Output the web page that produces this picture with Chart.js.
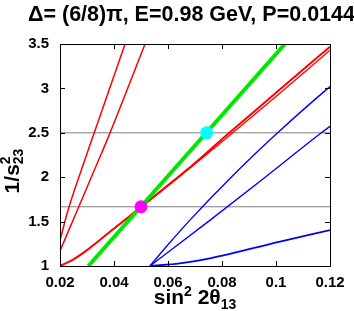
<!DOCTYPE html>
<html>
<head>
<meta charset="utf-8">
<script src="https://cdn.jsdelivr.net/npm/chart.js@4.4.1/dist/chart.umd.min.js"></script>
<style>
  body { margin: 0; background: #fff; }
  canvas { display: block; }
</style>
</head>
<body>
<canvas id="chart" width="354" height="311"></canvas>
<script>
// axis ticks
const xTicks = [0.02, 0.04, 0.06, 0.08, 0.1, 0.12];
const yTicks = [1, 1.5, 2, 2.5, 3, 3.5];

// horizontal reference levels (1/s23^2)
const refLevels = [2.5, 1.667];

// red curves [sin^2 2theta13, 1/s23^2]
const redSteepA = [[0.02, 1.29], [0.023, 1.63], [0.028, 2.09], [0.033, 2.53], [0.0441, 3.5]];
const redSteepB = [[0.02, 1.17], [0.027, 1.67], [0.033, 2.1], [0.038, 2.46], [0.0515, 3.5]];
const redMain = [[0.02, 1.0], [0.025, 1.075], [0.0305, 1.19], [0.0385, 1.385], [0.0441, 1.52],
  [0.05, 1.667], [0.0669, 2.08], [0.0823, 2.49], [0.1, 2.95], [0.12, 3.47]];
const redSecond = [[0.04, 1.42], [0.05, 1.66], [0.07, 2.15], [0.1, 2.91], [0.12, 3.43]];

// blue curves
const blueUpper = [[0.0533, 1.0], [0.0603, 1.25], [0.0676, 1.5], [0.0834, 2.0],
  [0.1006, 2.5], [0.1192, 3.0], [0.1212, 3.05]];
const blueMiddle = [[0.0533, 1.0], [0.0749, 1.5], [0.096, 2.0], [0.1168, 2.5], [0.1212, 2.6]];
const blueLower = [[0.0533, 1.0], [0.0644, 1.03], [0.0756, 1.087], [0.1015, 1.274], [0.12, 1.405]];

// green line and the two marked points
const greenLine = [[0.0305, 1.0], [0.1033, 3.5]];
const magentaPoint = [[0.05, 1.667]];
const cyanPoint = [[0.0743, 2.5]];

const FONT = "'Liberation Sans', Arial, Helvetica, sans-serif";

const toXY = (pts) => pts.map(([x, y]) => ({ x, y }));

function curve(pts, color, width) {
  return {
    data: toXY(pts),
    showLine: true,
    borderColor: color,
    borderWidth: width,
    pointRadius: 0,
    cubicInterpolationMode: "monotone",
  };
}

function dot(pts, color) {
  return {
    data: toXY(pts),
    showLine: false,
    pointRadius: 6.5,
    pointBackgroundColor: color,
    pointBorderWidth: 0,
  };
}

const datasets = [
  dot(magentaPoint, "#ff00ff"),
  dot(cyanPoint, "#00ffff"),
  curve(greenLine, "#00e800", 4),
  curve(redMain, "#ff0000", 2),
  curve(redSecond, "#ff0000", 1.3),
  curve(redSteepA, "#ff0000", 1.5),
  curve(redSteepB, "#ff0000", 1.5),
  curve(blueUpper, "#0000ff", 1.4),
  curve(blueMiddle, "#0000ff", 1.4),
  curve(blueLower, "#0000ff", 1.8),
  ...refLevels.map((v) => curve([[xTicks[0], v], [xTicks[xTicks.length - 1], v]], "#808080", 1)),
];

// draws a list of text pieces; a piece with stack:true sits over the previous one
function drawRich(ctx, parts, x, y, align) {
  const widths = parts.map((p) => {
    ctx.font = `bold ${p.size}px ${FONT}`;
    return ctx.measureText(p.text).width;
  });
  let total = 0;
  parts.forEach((p, i) => {
    if (p.stack) total += Math.max(0, widths[i] - widths[i - 1]);
    else total += widths[i];
  });
  let cx = align === "center" ? x - total / 2 : x;
  let lastX = cx;
  parts.forEach((p, i) => {
    ctx.font = `bold ${p.size}px ${FONT}`;
    const px = p.stack ? lastX : cx;
    ctx.fillText(p.text, px, y + (p.dy || 0));
    if (!p.stack) {
      lastX = cx;
      cx += widths[i];
    } else {
      cx = Math.max(cx, lastX + widths[i]);
    }
  });
}

const framePlugin = {
  id: "frame",
  afterDraw(chart) {
    const { ctx, chartArea: a, scales } = chart;
    ctx.save();
    ctx.strokeStyle = "#000";
    ctx.lineWidth = 1;
    ctx.strokeRect(a.left + 0.5, a.top + 0.5, a.right - a.left, a.bottom - a.top);
    const len = 5;
    ctx.beginPath();
    xTicks.forEach((v) => {
      const px = Math.round(scales.x.getPixelForValue(v)) + 0.5;
      ctx.moveTo(px, a.bottom);
      ctx.lineTo(px, a.bottom - len);
      ctx.moveTo(px, a.top);
      ctx.lineTo(px, a.top + len);
    });
    yTicks.forEach((v) => {
      const py = Math.round(scales.y.getPixelForValue(v)) + 0.5;
      ctx.moveTo(a.left, py);
      ctx.lineTo(a.left + len, py);
      ctx.moveTo(a.right, py);
      ctx.lineTo(a.right - len, py);
    });
    ctx.stroke();

    ctx.fillStyle = "#000";
    ctx.textBaseline = "alphabetic";
    ctx.textAlign = "left";

    // chart title
    ctx.font = `bold 21.5px ${FONT}`;
    ctx.fillText("\u0394= (6/8)\u03c0, E=0.98 GeV, P=0.0144", 28, 21);

    // x axis title
    drawRich(ctx, [
      { text: "sin", size: 21 },
      { text: "2", size: 14, dy: -8 },
      { text: " 2\u03b8", size: 21 },
      { text: "13", size: 14, dy: 5 },
    ], (a.left + a.right) / 2, 304, "center");

    // y axis title
    ctx.translate(19, 171);
    ctx.rotate(-Math.PI / 2);
    drawRich(ctx, [
      { text: "1/s", size: 21 },
      { text: "2", size: 14, dy: -9 },
      { text: "23", size: 14, dy: 4, stack: true },
    ], 0, 0, "center");
    ctx.restore();
  },
};

const tickFont = { family: FONT, size: 15, weight: "bold" };

new Chart(document.getElementById("chart").getContext("2d"), {
  type: "scatter",
  data: { datasets },
  options: {
    responsive: false,
    animation: false,
    layout: { padding: { top: 44, right: 24, left: 0, bottom: 0 } },
    plugins: {
      legend: { display: false },
      tooltip: { enabled: false },
    },
    scales: {
      x: {
        type: "linear",
        min: xTicks[0],
        max: xTicks[xTicks.length - 1],
        afterFit: (s) => { s.height = 45; },
        afterBuildTicks: (s) => { s.ticks = xTicks.map((v) => ({ value: v })); },
        grid: { display: false, drawTicks: false },
        border: { display: false },
        ticks: { font: tickFont, color: "#000", padding: 8, maxRotation: 0, callback: (v) => String(v) },
      },
      y: {
        type: "linear",
        min: yTicks[0],
        max: yTicks[yTicks.length - 1],
        afterFit: (s) => { s.width = 60; },
        afterBuildTicks: (s) => { s.ticks = yTicks.map((v) => ({ value: v })); },
        grid: { display: false, drawTicks: false },
        border: { display: false },
        ticks: { font: tickFont, color: "#000", padding: 11, callback: (v) => String(v) },
      },
    },
  },
  plugins: [framePlugin],
});
</script>
</body>
</html>
